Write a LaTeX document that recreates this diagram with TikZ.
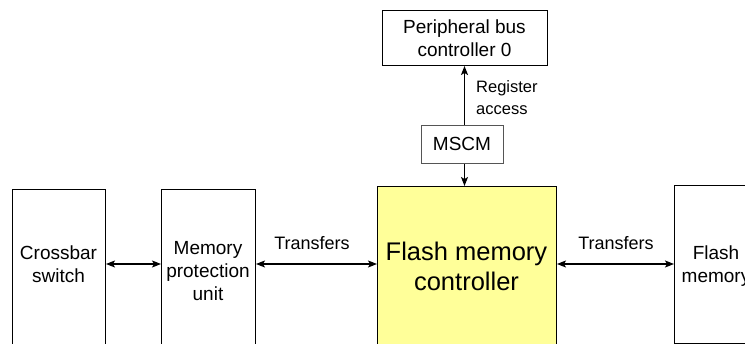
\documentclass[tikz,border=0pt]{standalone}
\usepackage{fontspec}
\setmainfont{Liberation Sans}
\usetikzlibrary{arrows.meta}
\definecolor{fmcyellow}{HTML}{FFFF99}
\definecolor{mscmgray}{HTML}{555555}
\tikzset{
  box/.style={draw=black, line width=1pt, inner sep=0pt, anchor=north west},
  lbl/.style={font=\fontsize{19}{23}\selectfont, align=center, inner sep=0pt},
  small/.style={font=\fontsize{16.5}{22}\selectfont, align=left, inner sep=0pt},
  conn/.style={line width=1.1pt, {Stealth[length=9pt,width=7pt,inset=2pt]}-{Stealth[length=9pt,width=7pt,inset=2pt]}},
  oneway/.style={line width=1.1pt, -{Stealth[length=9pt,width=7pt,inset=2pt]}}
}
\begin{document}
\begin{tikzpicture}[x=1pt,y=-1pt]
\useasboundingbox (0,0) rectangle (745,344);
\clip (0,0) rectangle (745,344);
% boxes
\node[box, minimum width=93pt, minimum height=220pt] (cb) at (12,189) {};
\node[box, minimum width=94pt, minimum height=220pt] (mpu) at (161,189) {};
\node[box, fill=fmcyellow, minimum width=179pt, minimum height=220pt] (fmc) at (377,186) {};
\node[box, minimum width=84pt, minimum height=158pt] (fm) at (674,185) {};
\node[box, minimum width=165pt, minimum height=55pt] (pbc) at (382,10) {};
\node[box, draw=mscmgray, minimum width=82pt, minimum height=38pt] (mscm) at (421,125) {};
% texts
\node[lbl] (cbt) at (58.5,264) {Crossbar\\switch};
\node[lbl] (mput) at (208,271) {Memory\\protection\\unit};
\node[lbl, font=\fontsize{25.5}{30}\selectfont] (fmct) at (466.5,266) {Flash memory\\controller};
\node[lbl] (fmt) at (716,266) {Flash\\memory};
\node[lbl] (pbct) at (464.5,38) {Peripheral bus\\controller 0};
\node[lbl] (mscmt) at (462,144) {MSCM};
\node[small, anchor=west] (reg) at (476,98) {Register\\access};
\node[lbl, font=\fontsize{18}{22}\selectfont] (tr1) at (312,243) {Transfers};
\node[lbl, font=\fontsize{18}{22}\selectfont] (tr2) at (616,243) {Transfers};
% connectors
\coordinate (row) at (0,264);
\draw[conn] (row -| cb.east) -- (row -| mpu.west);
\draw[conn] (row -| mpu.east) -- (row -| fmc.west);
\draw[conn] (row -| fmc.east) -- (row -| fm.west);
\draw[oneway] ([xshift=2pt]mscm.north) -- ([xshift=2pt]mscm.north |- pbc.south);
\draw[oneway] ([xshift=2pt]mscm.south) -- ([xshift=2pt]mscm.south |- fmc.north);
\end{tikzpicture}
\end{document}
